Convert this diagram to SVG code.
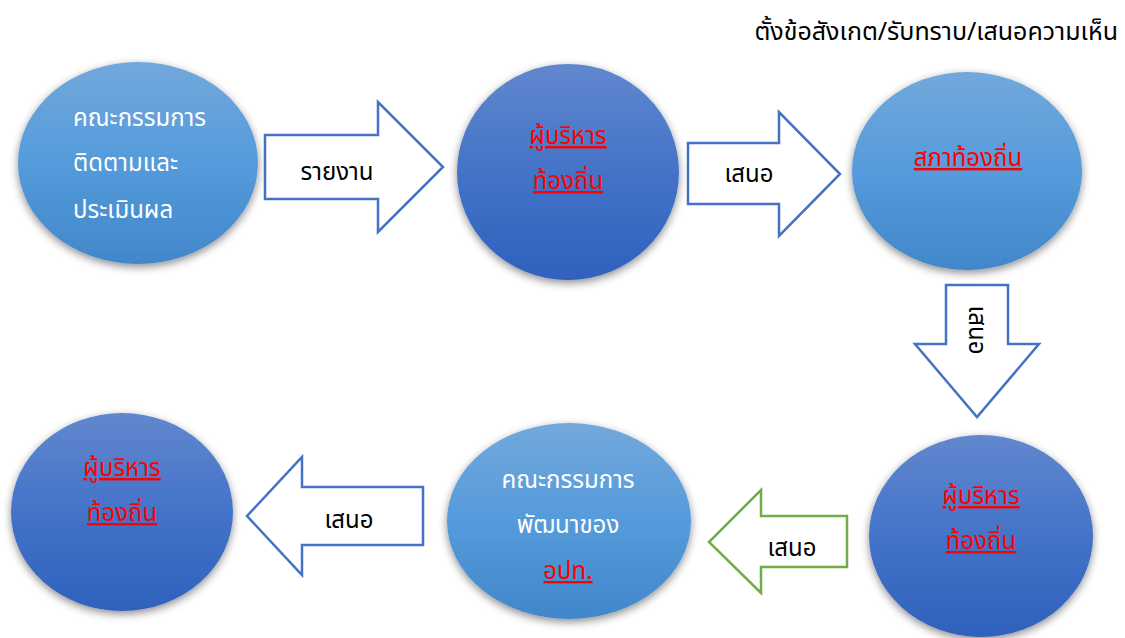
<svg xmlns="http://www.w3.org/2000/svg" width="1125" height="638" viewBox="0 0 1125 638">
  <defs>
    <linearGradient id="gLight" x1="0" y1="0" x2="0" y2="1">
      <stop offset="0" stop-color="#72A8DC"/>
      <stop offset="0.5" stop-color="#559BDB"/>
      <stop offset="1" stop-color="#4187CA"/>
    </linearGradient>
    <linearGradient id="gDark" x1="0" y1="0" x2="0" y2="1">
      <stop offset="0" stop-color="#6187CE"/>
      <stop offset="0.5" stop-color="#4473C8"/>
      <stop offset="1" stop-color="#2F61BC"/>
    </linearGradient>
    <filter id="shadow" x="-20%" y="-20%" width="140%" height="140%">
      <feDropShadow dx="0" dy="3" stdDeviation="4" flood-color="#000" flood-opacity="0.45"/>
    </filter>
    <style>
      text { font-family: "Noto Sans Thai", "Leelawadee UI", Tahoma, "Noto Sans", sans-serif; }
      .w { fill: #FFFFFF; font-size: 24px; }
      .r { fill: #FF0000; font-size: 24px; text-decoration: underline; text-anchor: middle; }
      .k { fill: #000000; font-size: 24px; text-anchor: middle; }
      .light { fill: url(#gLight); filter: url(#shadow); }
      .dark { fill: url(#gDark); filter: url(#shadow); }
      .arrow { fill: #FFFFFF; stroke: #4472C4; stroke-width: 2.5; stroke-linejoin: miter; }
      .arrowG { fill: #FFFFFF; stroke: #70AD47; stroke-width: 2.5; stroke-linejoin: miter; }
    </style>
  </defs>

  <text x="1118" y="40" text-anchor="end" style="font-size:25px; fill:#000;">ตั้งข้อสังเกต/รับทราบ/เสนอความเห็น</text>

  <g id="connectors">
    <g id="arrow1">
      <polygon class="arrow" points="265,135 378,135 378,102 443,167 378,232 378,199 265,199"/>
      <text class="k" x="337" y="180">รายงาน</text>
    </g>
    <g id="arrow2">
      <polygon class="arrow" points="688,143 779,143 779,112 840,174 779,236 779,204 688,204"/>
      <text class="k" x="749" y="182">เสนอ</text>
    </g>
    <g id="arrow3">
      <polygon class="arrow" points="946,285 1008,285 1008,344 1039,344 977,417 915,344 946,344"/>
      <text class="k" transform="translate(969,330) rotate(90)" x="0" y="0">เสนอ</text>
    </g>
    <g id="arrow4">
      <polygon class="arrowG" points="847,516 761,516 761,490 709,542 761,593 761,567 847,567"/>
      <text class="k" x="792" y="556">เสนอ</text>
    </g>
    <g id="arrow5">
      <polygon class="arrow" points="423,487 302,487 302,457 247,516 302,575 302,545 423,545"/>
      <text class="k" x="349" y="528">เสนอ</text>
    </g>
  </g>

  <g id="node1">
    <ellipse class="light" cx="138" cy="163" rx="120" ry="101"/>
    <text class="w" x="73" y="126">คณะกรรมการ</text>
    <text class="w" x="73" y="171">ติดตามและ</text>
    <text class="w" x="73" y="218">ประเมินผล</text>
  </g>

  <g id="node2">
    <ellipse class="dark" cx="568" cy="172" rx="111" ry="108"/>
    <text class="r" x="568" y="144">ผู้บริหาร</text>
    <text class="r" x="568" y="189">ท้องถิ่น</text>
  </g>

  <g id="node3">
    <ellipse class="light" cx="967" cy="171" rx="115" ry="99"/>
    <text class="r" x="968" y="166">สภาท้องถิ่น</text>
  </g>

  <g id="node4">
    <ellipse class="dark" cx="981" cy="536" rx="112" ry="101"/>
    <text class="r" x="981" y="504">ผู้บริหาร</text>
    <text class="r" x="981" y="549">ท้องถิ่น</text>
  </g>

  <g id="node5">
    <ellipse class="light" cx="569" cy="521" rx="122" ry="98"/>
    <text class="w" x="568" y="488" text-anchor="middle">คณะกรรมการ</text>
    <text class="w" x="568" y="533" text-anchor="middle">พัฒนาของ</text>
    <text class="r" x="568" y="579">อปท.</text>
  </g>

  <g id="node6">
    <ellipse class="dark" cx="122" cy="512" rx="111" ry="99"/>
    <text class="r" x="122" y="476">ผู้บริหาร</text>
    <text class="r" x="122" y="521">ท้องถิ่น</text>
  </g>
</svg>
